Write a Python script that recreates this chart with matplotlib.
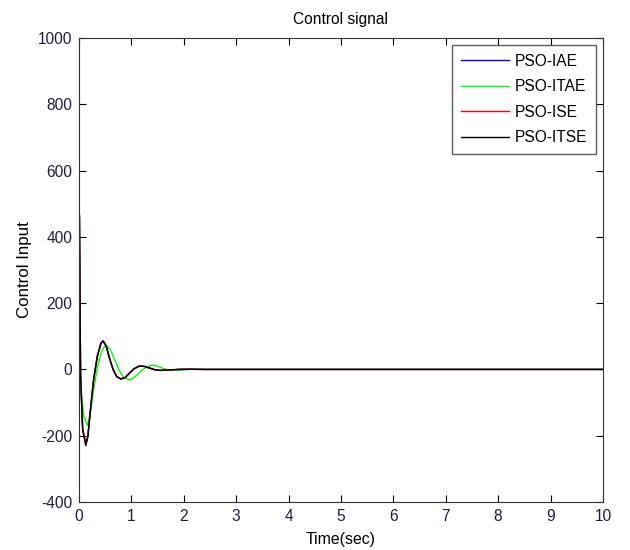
import numpy as np
import matplotlib
matplotlib.use('Agg')
import matplotlib.pyplot as plt

plt.rcParams['font.family'] = ['Liberation Sans', 'DejaVu Sans']
plt.rcParams['axes.unicode_minus'] = False

# time samples [sec]
t = [0, 0.008, 0.03, 0.07, 0.13, 0.17, 0.22, 0.28, 0.35, 0.42, 0.46, 0.52, 0.58,
     0.65, 0.72, 0.8, 0.88, 0.96, 1.05, 1.15, 1.25, 1.35, 1.45, 1.55, 1.7, 1.9,
     2.1, 2.4, 3.0, 10.0]

u_iae = [465, 465, -20, -180, -228, -200, -120, -30, 40, 80, 86, 70, 35,
         0, -22, -29, -25, -12, 2, 10, 9, 4, -1, -3, -2, 0,
         0.5, 0, 0, 0]
u_ise = [465, 465, -20, -178, -225, -198, -118, -28, 42, 80, 85, 69, 34,
         0, -21, -28, -24, -11, 2, 10, 9, 4, -1, -3, -2, 0,
         0.5, 0, 0, 0]
u_itse = [465, 465, -20, -182, -230, -202, -121, -31, 39, 79, 86, 70, 35,
          0, -22, -29, -25, -12, 2, 10, 9, 4, -1, -3, -2, 0,
          0.5, 0, 0, 0]

t_itae = [0, 0.008, 0.012, 0.04, 0.09, 0.16, 0.22, 0.28, 0.35, 0.42, 0.48, 0.53, 0.6,
          0.68, 0.76, 0.85, 0.97, 1.05, 1.15, 1.25, 1.35, 1.42, 1.5, 1.6, 1.7,
          1.8, 1.95, 2.1, 2.25, 2.4, 10.0]
u_itae = [465, 465, 150, -60, -140, -169, -130, -60, 5, 50, 68, 71, 60,
          30, 0, -25, -32, -25, -10, 3, 11, 13, 10, 3, -1,
          -3, -2, 0, 1, 0, 0]

fig = plt.figure(figsize=(6.3, 5.5), dpi=100)
ax = fig.add_axes([0.1254, 0.0873, 0.8317, 0.8436])

ax.plot(t, u_iae, color='#0000ff', lw=1.0, label='PSO-IAE')
ax.plot(t_itae, u_itae, color='#00ff00', lw=1.0, label='PSO-ITAE')
ax.plot(t, u_ise, color='#ff0000', lw=1.0, label='PSO-ISE')
ax.plot(t, u_itse, color='black', lw=1.0, label='PSO-ITSE')

ax.set_xlim(0, 10)
ax.set_ylim(-400, 1000)
ax.set_xticks(np.arange(0, 11, 1))
ax.set_yticks(np.arange(-400, 1001, 200))
ax.tick_params(direction='in', top=True, right=True, length=5, pad=5,
               labelsize=11.2, labelcolor='#1c1c48')
for s in ax.spines.values():
    s.set_color('#333333')

ax.set_title('Control signal', fontsize=11.2, pad=10)
ax.set_xlabel('Time(sec)', fontsize=11.4, labelpad=6)
ax.set_ylabel('Control Input', fontsize=12.2, labelpad=4)

leg = ax.legend(loc='upper right', fontsize=11.2, frameon=True, fancybox=False,
                edgecolor='#333333', handlelength=3.1, labelspacing=0.68,
                borderaxespad=0.45, handletextpad=0.4, borderpad=0.55)
leg.get_frame().set_linewidth(1.0)

fig.savefig('out.png', dpi=100)
